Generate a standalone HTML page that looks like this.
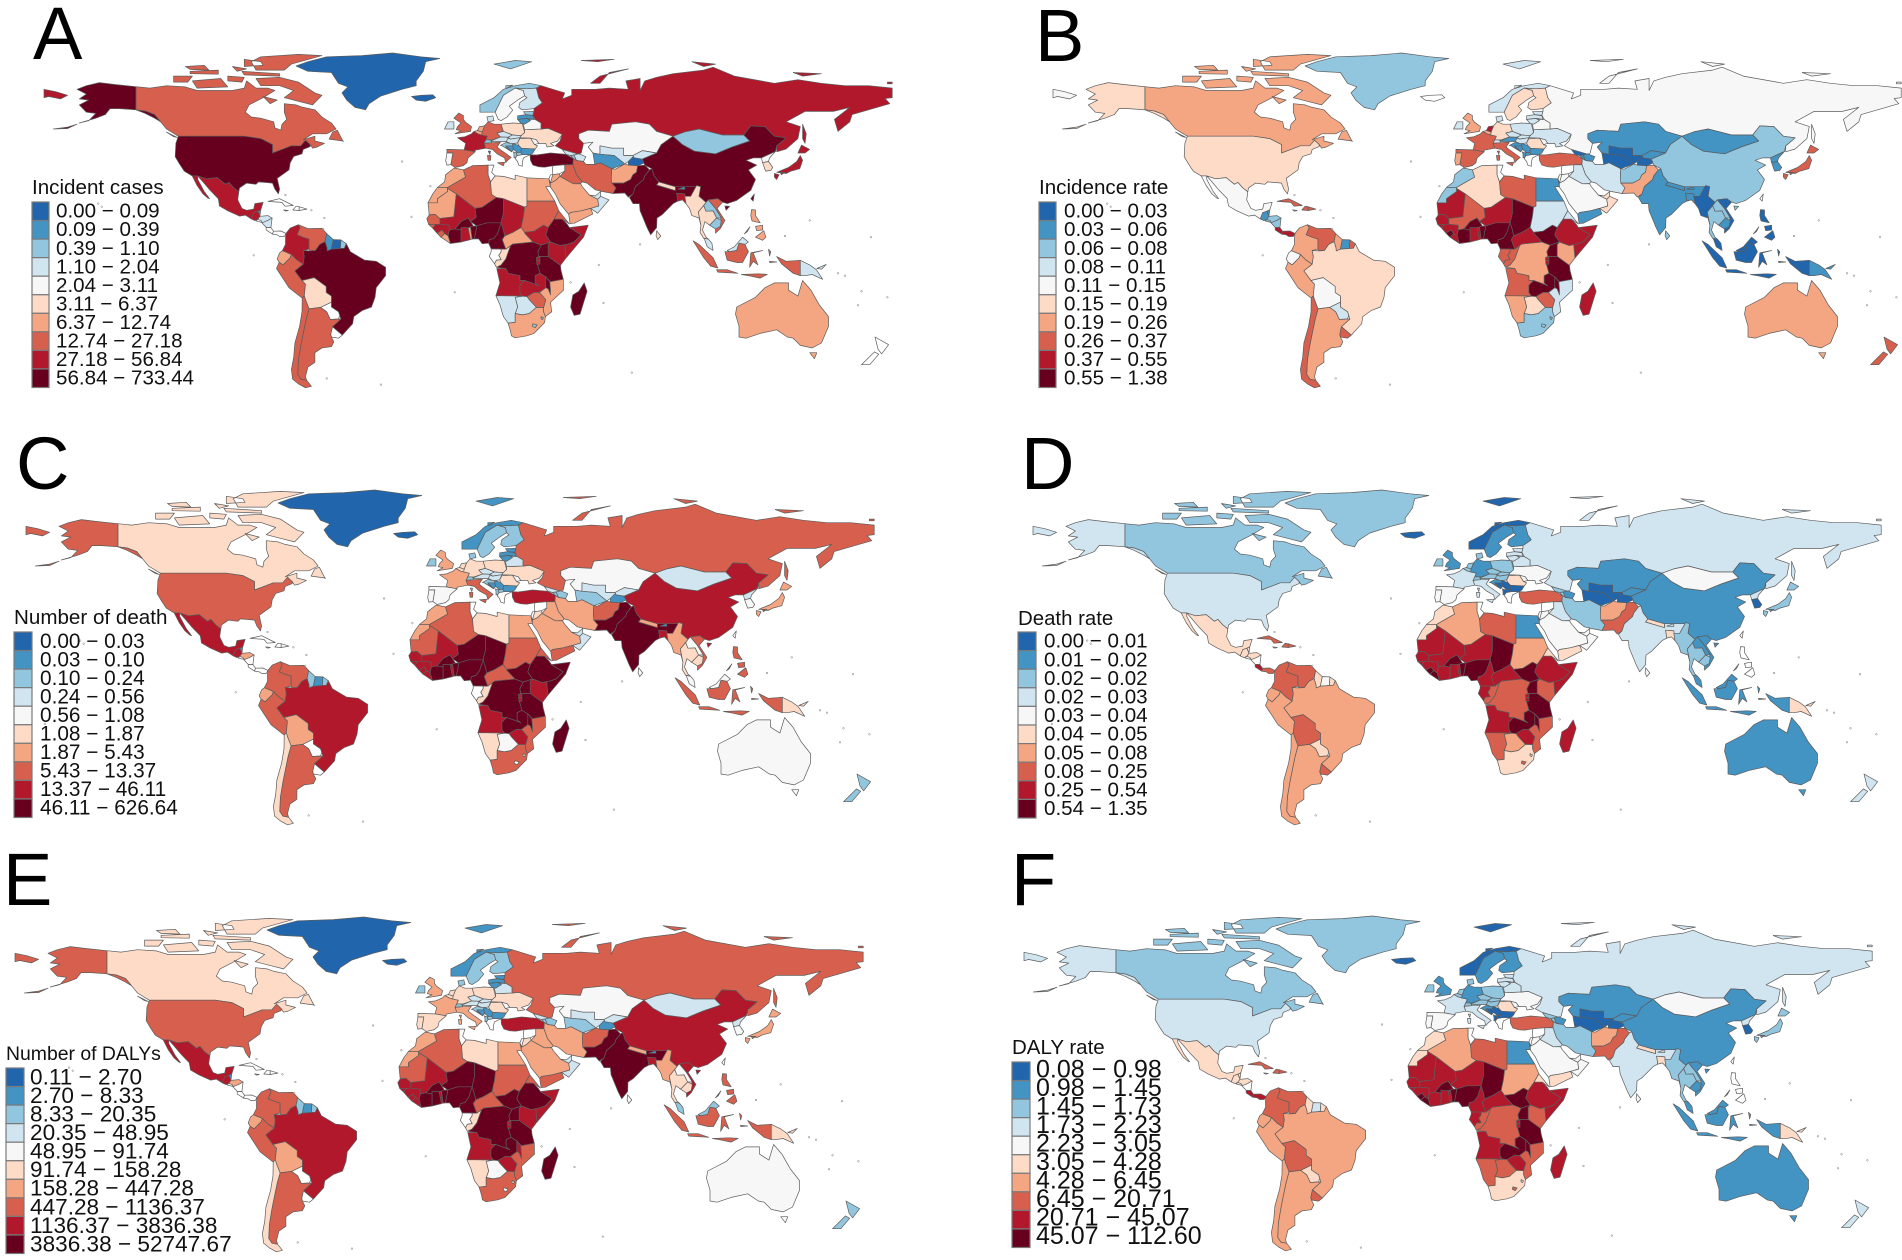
<!DOCTYPE html>
<html lang="en">
<head>
<meta charset="utf-8">
<title>Six-panel world choropleth maps</title>
<style>
html,body{margin:0;padding:0;background:#fff;}
#figure{display:block;width:1902px;height:1260px;font-family:"Liberation Sans",sans-serif;}
</style>
</head>
<body>
<svg id="figure" xmlns="http://www.w3.org/2000/svg" width="1902" height="1260" viewBox="0 0 1902 1260"></svg>
<script>
// ---------- chart data: one legend-class value per country (-1 = no data) ----------
const countries = [
"canada","usa","mexico","greenland","iceland","guatemala","belize","honduras","salvador","nicaragua","costarica","panama","cuba","haiti","dominican","jamaica",
"colombia","venezuela","guyana","suriname","frguiana","ecuador","peru","brazil","bolivia","paraguay","uruguay","argentina","chile",
"norway","sweden","finland","denmark","uk","ireland","france","spain","portugal","belgium","netherlands","germany","switzerland","austria","italy","poland","czechia","slovakia","hungary","croatia","bosnia","serbia","albania","macedonia","greece","bulgaria","romania","moldova","ukraine","belarus","lithuania","latvia","estonia","russia",
"turkey","georgia","armenia","azerbaijan","iran","iraq","syria","israel","jordan","saudi","yemen","oman","uae","kazakhstan","uzbekistan","turkmenistan","tajikistan","kyrgyzstan","afghanistan","pakistan",
"india","nepal","bhutan","bangladesh","srilanka","china","mongolia","japan","northkorea","southkorea","taiwan","myanmar","thailand","laos","vietnam","cambodia","malaysia","indonesia","philippines","png","australia","newzealand",
"morocco","wsahara","algeria","tunisia","libya","egypt","mauritania","mali","niger","chad","sudan","ssudan","eritrea","ethiopia","somalia","kenya","uganda","tanzania","rwanda","burundi","drc","congo","gabon","car","cameroon","nigeria","benin","togo","ghana","ivory","burkina","guinea","liberia","sierraleone","gbissau","senegal","angola","zambia","malawi","mozambique","zimbabwe","botswana","namibia","safrica","lesotho","swaziland","madagascar"
];
const incidentCases = [
7,9,8,0,0,8,1,3,-1,3,-1,-1,-1,-1,-1,-1,
8,7,1,0,2,6,7,9,5,-1,-1,7,7,
2,4,3,3,7,3,8,7,4,6,6,7,2,3,7,5,3,3,3,2,1,1,2,2,-1,1,5,4,5,4,1,1,2,8,
9,3,2,3,7,7,-1,4,6,6,6,3,3,4,3,1,0,3,6,9,
9,5,1,8,5,9,2,8,4,5,9,5,5,2,7,2,3,7,6,3,6,-1,
6,6,7,-1,5,6,6,8,9,8,7,8,7,9,8,8,9,9,8,8,9,5,-1,6,9,9,9,6,8,9,9,8,6,7,7,7,8,8,9,6,7,3,3,6,2,2,9
];
const incidenceRate = [
6,5,4,2,-1,1,1,2,2,2,8,8,7,7,7,-1,
6,7,6,1,7,4,6,5,4,3,7,6,7,
3,5,5,3,6,3,7,7,6,6,8,5,3,1,7,3,3,3,3,1,1,1,1,1,-1,1,5,4,3,4,3,3,3,4,
7,0,1,1,3,3,-1,4,4,4,1,5,5,1,0,0,0,1,2,6,
1,1,1,1,2,2,1,7,1,1,-1,0,2,2,0,1,0,0,0,1,6,7,
2,2,5,-1,7,1,8,7,8,9,3,9,3,8,8,6,9,9,8,8,6,7,7,8,9,9,9,8,8,9,9,8,8,9,8,8,7,9,9,3,7,5,6,2,2,2,8
];
const numberOfDeath = [
5,7,8,0,0,8,1,6,-1,-1,-1,-1,-1,-1,-1,-1,
7,7,2,1,2,6,7,8,6,-1,-1,7,5,
1,2,2,2,6,2,6,4,4,5,5,5,2,3,7,5,3,3,3,2,1,1,2,2,-1,1,5,4,5,3,1,1,1,7,
8,3,2,2,6,6,-1,4,5,6,7,3,3,4,3,2,1,3,7,9,
9,6,1,8,4,8,3,6,3,4,-1,6,5,4,7,5,4,7,7,5,4,2,
6,6,7,-1,5,6,7,8,9,9,7,9,7,9,9,8,9,9,8,8,9,5,-1,7,9,9,9,8,9,9,9,8,8,8,8,8,8,9,9,7,8,4,5,7,-1,-1,9
];
const deathRate = [
2,3,5,2,0,5,5,5,-1,-1,8,7,7,7,7,-1,
7,7,5,4,5,6,6,6,7,5,7,6,6,
0,1,1,2,1,2,3,4,4,2,2,1,2,2,3,2,2,2,2,1,0,0,0,0,-1,0,5,4,4,3,3,3,3,3,
7,2,2,1,2,3,-1,4,4,4,5,4,4,1,0,0,0,1,6,7,
3,5,3,5,4,1,4,2,3,0,-1,2,2,1,1,2,1,1,-1,5,1,3,
5,5,6,-1,7,1,8,8,8,9,6,9,5,8,8,7,9,9,8,8,7,7,8,8,8,9,9,8,8,8,9,8,9,9,8,8,8,9,9,7,8,6,7,5,7,5,8
];
const numberOfDalys = [
5,7,8,0,0,8,1,6,-1,-1,-1,-1,-1,-1,-1,-1,
7,7,2,1,2,6,7,8,6,-1,-1,7,5,
1,2,2,2,6,2,6,5,5,5,5,5,2,3,6,5,3,3,3,2,1,1,2,2,-1,1,5,4,5,3,1,1,1,7,
8,3,2,2,6,6,-1,4,5,6,7,3,3,4,3,2,1,3,7,9,
9,6,1,8,4,8,3,6,3,4,-1,6,5,4,8,5,2,7,7,5,4,2,
6,6,7,-1,5,6,7,8,9,9,7,9,7,9,8,8,9,9,8,8,9,5,-1,7,9,9,9,8,9,9,9,8,8,8,8,8,8,9,8,7,8,4,5,7,-1,-1,9
];
const dalyRate = [
2,3,5,2,0,5,5,5,5,-1,8,8,7,7,7,-1,
7,7,5,3,5,6,6,6,7,5,7,6,6,
0,1,1,2,1,2,3,4,4,2,2,1,2,2,3,2,2,2,2,1,0,0,0,0,-1,0,5,4,4,3,3,3,3,3,
7,2,2,1,2,3,-1,4,4,4,5,4,4,1,0,0,0,1,6,7,
3,5,3,5,4,1,4,2,3,0,-1,2,2,2,1,1,1,1,-1,5,1,3,
5,5,6,-1,7,1,8,8,8,9,6,9,5,8,8,7,9,9,8,8,7,7,8,8,8,9,9,8,8,8,9,8,9,9,8,8,8,9,9,7,8,7,7,5,7,5,8
];
// legend tick labels
const incidentLabels = ["0.00 − 0.09","0.09 − 0.39","0.39 − 1.10","1.10 − 2.04","2.04 − 3.11","3.11 − 6.37","6.37 − 12.74","12.74 − 27.18","27.18 − 56.84","56.84 − 733.44"];
const incidenceLabels = ["0.00 − 0.03","0.03 − 0.06","0.06 − 0.08","0.08 − 0.11","0.11 − 0.15","0.15 − 0.19","0.19 − 0.26","0.26 − 0.37","0.37 − 0.55","0.55 − 1.38"];
const deathLabels = ["0.00 − 0.03","0.03 − 0.10","0.10 − 0.24","0.24 − 0.56","0.56 − 1.08","1.08 − 1.87","1.87 − 5.43","5.43 − 13.37","13.37 − 46.11","46.11 − 626.64"];
const deathRateLabels = ["0.00 − 0.01","0.01 − 0.02","0.02 − 0.02","0.02 − 0.03","0.03 − 0.04","0.04 − 0.05","0.05 − 0.08","0.08 − 0.25","0.25 − 0.54","0.54 − 1.35"];
const dalyLabels = ["0.11 − 2.70","2.70 − 8.33","8.33 − 20.35","20.35 − 48.95","48.95 − 91.74","91.74 − 158.28","158.28 − 447.28","447.28 − 1136.37","1136.37 − 3836.38","3836.38 − 52747.67"];
const dalyRateLabels = ["0.08 − 0.98","0.98 − 1.45","1.45 − 1.73","1.73 − 2.23","2.23 − 3.05","3.05 − 4.28","4.28 − 6.45","6.45 − 20.71","20.71 − 45.07","45.07 − 112.60"];
const classColors = ["#2166ac","#4393c3","#92c5de","#d1e5f0","#f7f7f7","#fddbc7","#f4a582","#d6604d","#b2182b","#67001f"];

// ---------- geography: lon/lat outlines ----------
const shapes = {
canada:[[[-141,69.6],[-135,69],[-128,70],[-120,69.5],[-115,68],[-108,68],[-100,68],[-95,69],[-94,72],[-90,69],[-85,69],[-82,68],[-87,65],[-93,62],[-94.5,59],[-92,57],[-88,56.5],[-82.5,55],[-82,52.5],[-79.5,51.5],[-79,54],[-77,56],[-78,59],[-78,62.5],[-73,62],[-70,61],[-65,60],[-62,57],[-58,54.5],[-56,52],[-60,50],[-66,50],[-70,47.5],[-65,49],[-65,47],[-61,46],[-64,44.5],[-66,44],[-67,45.5],[-69,47.3],[-71,45],[-75,45],[-79,43.5],[-83,42],[-83,45.5],[-88,48],[-95,49],[-123,49],[-128,52],[-130.5,55],[-133,58],[-137,59.5],[-141,60]],
[[-80,73.5],[-72,71.5],[-65,67],[-62,66],[-66,62],[-72,63.5],[-78,65],[-74,68],[-80,70],[-88,70],[-90,73]],[[-117,72],[-105,73],[-102,69.5],[-115,69]],[[-125,74],[-117,74],[-119,71.5],[-125,71.5]],[[-90,76.5],[-78,76.5],[-75,79],[-62,82.5],[-72,83],[-88,82],[-92,80]],[[-96,76],[-80,75],[-80,74],[-95,74.5]],[[-118,76],[-106,76.5],[-106,74.8],[-118,75]],[[-95,81],[-88,80],[-87,78.5],[-95,78]],[[-59,47.8],[-53,47],[-53,46.7],[-55.5,51.5],[-57.5,50.7]],[[-87,65.5],[-81,64],[-84,62.5]],[[-102,74],[-95,73.5],[-96,71.5],[-102,72]],[[-128,50.7],[-123.5,48.5],[-125,48.8]],[[-120,78],[-112,78.5],[-110,76.5],[-118,76.8]],[[-100,78],[-94,77],[-98,76]]],
usa:[[[-123,49],[-95,49],[-88,48],[-83,45.5],[-83,42],[-79,43.5],[-75,45],[-71,45],[-69,47.3],[-67,45.5],[-67,44.7],[-70,43.5],[-70.5,41.7],[-74,40.6],[-75.5,38],[-76,35],[-81,31.5],[-80,27],[-80.5,25],[-82,27],[-83,29.5],[-85,29.7],[-89,30],[-90,29],[-94,29.5],[-97,27.5],[-97.3,25.9],[-99.5,27.5],[-101.5,29.8],[-103,29],[-106.5,31.8],[-111,31.3],[-114.8,32.5],[-117.1,32.5],[-120.5,34.5],[-122.5,37.5],[-124.3,40.5],[-124,46]],
[[-141,69.6],[-150,70.5],[-156.5,71.3],[-162,70],[-166,68.5],[-162,66.5],[-165,64.5],[-161,64],[-165,62],[-162,59],[-158,58.5],[-161,55.5],[-165,54.5],[-158,56.5],[-154,58],[-152,60.5],[-148,60.5],[-141,60],[-137,58.5],[-133,56.5],[-130.5,55],[-133,58],[-137,59.5],[-141,60]],[[-176,52],[-170,52.8],[-166,54],[-170,52.2]]],
mexico:[[[-114.8,32.5],[-111,31.3],[-106.5,31.8],[-103,29],[-101.5,29.8],[-99.5,27.5],[-97.3,25.9],[-97.8,22.5],[-96,19],[-94,18.2],[-91,18.7],[-90.5,21],[-87,21.5],[-88,18.4],[-89.2,17.8],[-91,17.2],[-92,14.6],[-94.5,16.2],[-97,15.8],[-102,18],[-105.5,20],[-106,23],[-109.5,26.5],[-112.5,30]],[[-117.1,32.5],[-114.8,32.5],[-114.7,31],[-112,26],[-109.7,23],[-110.5,23.3],[-112.5,25],[-115,28.5]]],
greenland:[[[-73,78.2],[-68,80],[-60,82],[-45,82.5],[-32,83.6],[-20,82],[-12,81.3],[-18,80],[-19,76],[-22,72],[-22,70],[-28,68.5],[-37,65.7],[-42,62.5],[-43.5,60],[-48,61],[-51.5,64],[-53.5,67],[-51,69.5],[-55,71],[-58,75.5],[-68,76]]],
iceland:[[[-24,65.5],[-20,66],[-15,66.2],[-13.7,65],[-18,63.5],[-22,64]]],
guatemala:[[[-92,14.6],[-91,17.2],[-89.2,17.8],[-88.3,15.7],[-89.3,14.4],[-90.5,13.9]]],
belize:[[[-89.2,17.8],[-88,18.4],[-88.3,16]]],
honduras:[[[-89.3,14.4],[-88.3,15.7],[-85,16],[-83.2,15],[-85,14],[-87,13]]],
salvador:[[[-90,13.8],[-89.3,14.4],[-87.8,13.9],[-87.8,13.2]]],
nicaragua:[[[-87.5,13],[-85,14],[-83.2,15],[-83.7,11],[-85.7,11.1]]],
costarica:[[[-85.7,11.1],[-83.7,11],[-82.6,9.5],[-83,8.3],[-85.7,10]]],
panama:[[[-83,8.3],[-82.6,9.5],[-79.5,9.6],[-77.3,8.6],[-78,7.3],[-80,7.3],[-81,8]]],
cuba:[[[-84.9,21.9],[-80,23],[-74.2,20.2],[-77.7,19.9],[-79,21.5]]],
haiti:[[[-74.4,18.3],[-73,19.9],[-71.7,19.7],[-71.7,18.1]]],
dominican:[[[-71.7,19.7],[-68.4,18.7],[-71.7,18.1]]],
jamaica:[[[-78.3,18.4],[-76.3,18.1],[-77.5,17.8]]],
colombia:[[[-77.3,8.6],[-75.5,10.8],[-72,12.2],[-71.3,11],[-72.5,8],[-70,7],[-67.5,6.2],[-67.5,2],[-70,1.5],[-69.5,-1],[-70,-4.2],[-72.8,-2.4],[-75,-0.2],[-78.8,1.4],[-77.5,4],[-77.5,7]]],
venezuela:[[[-72,12.2],[-68,10.6],[-62,10.7],[-60,8.5],[-60.7,5.2],[-63,4],[-64.8,1.5],[-67,1.3],[-67.5,2],[-67.5,6.2],[-70,7],[-72.5,8],[-71.3,11]]],
guyana:[[[-60,8.5],[-57.2,6],[-58,2],[-59.8,1.3],[-59.9,2.5],[-60.7,5.2]]],
suriname:[[[-57.2,6],[-54,5.9],[-54.2,2.3],[-58,2]]],
frguiana:[[[-54,5.9],[-51.7,4.3],[-52.5,2.4],[-54.2,2.3]]],
ecuador:[[[-78.8,1.4],[-75,-0.2],[-75.5,-1.5],[-78.5,-4.5],[-80.2,-3.4],[-81,-2],[-80,0.5]]],
peru:[[[-80.2,-3.4],[-78.5,-4.5],[-75.5,-1.5],[-75,-0.2],[-72.8,-2.4],[-70,-4.2],[-73.5,-7],[-70.5,-11],[-69,-12.5],[-69.5,-17.3],[-70.4,-18.3],[-76,-14],[-81.3,-6]]],
brazil:[[[-51.7,4.3],[-50,1],[-44,-2.5],[-39,-3],[-35,-5.5],[-35,-9],[-39,-14],[-39.5,-18],[-41,-22],[-45,-23.5],[-48.5,-26],[-49,-29],[-53.4,-33.7],[-57.6,-30.2],[-54,-27],[-54.5,-25.5],[-55,-24],[-58,-22],[-58,-17.5],[-60.2,-16],[-60.2,-13.5],[-65.3,-9.8],[-70.5,-11],[-73.5,-7],[-70,-4.2],[-69.5,-1],[-70,1.5],[-67,1.3],[-64.8,1.5],[-63,4],[-60.7,5.2],[-59.9,2.5],[-59.8,1.3],[-58,2],[-54.2,2.3],[-52.5,2.4]]],
bolivia:[[[-69,-12.5],[-70.5,-11],[-65.3,-9.8],[-60.2,-13.5],[-60.2,-16],[-58,-17.5],[-58,-20],[-62.6,-22.2],[-67.5,-22.8],[-69,-19],[-69.5,-17.3]]],
paraguay:[[[-58,-20],[-58,-22],[-55,-24],[-54.5,-25.5],[-55,-27],[-58.5,-27.2],[-60,-24],[-62.6,-22.2]]],
uruguay:[[[-58.3,-33.5],[-57.6,-30.2],[-53.4,-33.7],[-55,-35],[-58,-34.5]]],
argentina:[[[-67.5,-22.8],[-62.6,-22.2],[-60,-24],[-58.5,-27.2],[-55,-27],[-54,-27],[-57.6,-30.2],[-58.3,-33.5],[-58,-34.5],[-57,-36.5],[-58,-38.5],[-62,-39],[-65,-41],[-65,-45],[-68,-47],[-69,-51],[-68.5,-52.5],[-71,-52],[-72.3,-50],[-72,-44],[-71,-38],[-70,-33],[-68.7,-27]]],
chile:[[[-70.4,-18.3],[-69.5,-17.3],[-69,-19],[-67.5,-22.8],[-68.7,-27],[-70,-33],[-71,-38],[-72,-44],[-72.3,-50],[-71,-52],[-68.5,-52.5],[-66.5,-55],[-69,-55.6],[-72,-54],[-74.5,-52],[-75,-48],[-74,-43],[-73.5,-37],[-71.5,-30],[-70.5,-24]]],
norway:[[[5,59],[5,62],[11,65],[15,68.5],[20,70],[26,71],[31,70],[29,69],[25,68.7],[20,69],[15,66],[12.5,61],[11.5,59]],[[11,79],[20,80.5],[27,80],[18,77]],[[16,70],[19,70.2],[16,68.8]]],
sweden:[[[11.5,59],[12.5,61],[15,66],[20,69],[23.5,68],[24,65.8],[21,64],[17.5,61.5],[19,59.8],[16.5,57],[14,55.5],[12.8,56]]],
finland:[[[20,69],[25,68.7],[29,69],[30,65],[31.5,62.9],[28,60.5],[23,60],[21.5,61],[22,63],[25,65],[24,65.8],[23.5,68]]],
denmark:[[[8,57],[10.5,57.5],[11,55.5],[8.5,55]]],
uk:[[[-5.5,50],[1,51],[1.5,53],[-1,54.8],[-2,56],[-2,57.6],[-4,58.6],[-6,56.5],[-3,54.5],[-4.5,53],[-5,51.7],[-3,51.3]]],
ireland:[[[-10,52],[-6,52],[-6,55],[-8.5,55]]],
france:[[[-4.5,48.4],[-1.5,48.7],[1.5,50],[2.5,51],[4.2,50],[8.2,49],[7.5,47.5],[6.8,46],[7.5,44],[3,43.2],[3,42.5],[-1.7,43.3],[-1,46]],[[8.6,42.8],[9.5,42.8],[9.2,41.4]]],
spain:[[[-9,43.5],[-1.7,43.3],[3,42.5],[0,40],[-0.5,38],[-2,36.8],[-5.5,36],[-7.3,37.2],[-7,39],[-6.5,42],[-9,42]]],
portugal:[[[-9,42],[-6.5,42],[-7,39],[-7.3,37.2],[-9,37],[-9.5,38.8]]],
belgium:[[[2.5,51],[4,51.4],[6,50.7],[5.8,49.5],[4.2,50]]],
netherlands:[[[4,51.4],[4.8,53],[7,53.3],[6,50.7]]],
germany:[[[6,50.7],[7,53.3],[8.5,55],[11,54],[14,54],[15,51],[12.2,50.3],[13.8,48.7],[10,47.4],[7.5,47.5],[8.2,49],[5.8,49.5]]],
switzerland:[[[6.8,46],[7.5,47.5],[10,47.4],[10,46.3]]],
austria:[[[9.6,47],[13.8,48.7],[17,48.5],[16.5,46.8],[10.5,46.8]]],
italy:[[[6.8,46],[10,46.3],[13.7,46.5],[12.3,44.5],[13.5,43.5],[18.3,40.2],[16.8,39],[16,38],[15.5,40],[12.3,41.7],[10.3,43.5],[7.5,44]],[[12.5,38],[15.5,38.2],[15,36.7]],[[8.2,41],[9.7,41],[9.5,39],[8.5,39]]],
poland:[[[14,54],[19,54.5],[23,54.3],[24,50.5],[22.5,49.2],[19,49.5],[15,51]]],
czechia:[[[12.2,50.3],[15,51],[18.8,49.5],[17,48.6],[13.8,48.7]]],
slovakia:[[[17,48.6],[18.8,49.5],[22.5,49.2],[22,48.4],[18,47.8]]],
hungary:[[[16.2,46.8],[17,48.2],[18,47.8],[22,48.4],[21,46.2],[18.5,45.8]]],
croatia:[[[13.7,45.2],[16,46.4],[18.8,45.9],[19,45],[16,44.5],[18.5,42.5],[14.5,45]]],
bosnia:[[[16,45],[19,45],[19.3,43.5],[18.5,42.5]]],
serbia:[[[19,46],[21.5,45.2],[22.7,44],[22.4,42.3],[20.8,42.3],[19.3,43.5],[19,45]]],
albania:[[[19.2,42.5],[20.5,42],[20.8,40.5],[19.5,40],[19.5,41.5]]],
macedonia:[[[20.5,42.2],[22.4,42.3],[23,41.3],[20.8,40.9]]],
greece:[[[20,39.7],[20.8,40.9],[23,41.3],[26.3,41.3],[23.5,40],[23,38],[23,36.5],[21.5,37],[21,38.5]]],
bulgaria:[[[22.7,44],[28.5,43.7],[27.5,42],[26.3,41.3],[23,41.3],[22.4,42.3]]],
romania:[[[21,46.2],[22,48],[26.5,48.2],[28.2,45.5],[29.5,45],[28.5,43.7],[22.7,44],[21.5,45.2]]],
moldova:[[[26.5,48.2],[29,47.5],[30,46],[28.2,45.5]]],
ukraine:[[[24,50.5],[24,51.7],[31,52],[34,52.3],[40,49.8],[38,47],[35,46],[36.5,45],[33.5,44.5],[33,46],[30,46],[29,47.5],[26.5,48.2],[22,48.4],[22.5,49.2]]],
belarus:[[[23.5,53.8],[25,56],[28.5,56],[31,54.5],[31,52],[24,51.7]]],
lithuania:[[[21,56],[25,56.4],[26.5,55.5],[24,54],[22.5,54.3]]],
latvia:[[[21,57.5],[24.5,58],[27.5,57.5],[28,56],[25,56.4],[21,56]]],
estonia:[[[23.5,59.2],[28,59.4],[27.5,57.7],[24.5,58]]],
russia:[[[28,59.4],[28,60.5],[31.5,62.9],[30,65],[29,69],[31,70],[41,67],[40,64.5],[44,66],[44,68.5],[54,68.5],[60,69],[68,68.5],[67,72],[73,73],[73,68],[75,72],[80,73.5],[87,75],[100,76.5],[104,77.7],[113,74],[130,71],[140,72.5],[150,71],[160,70],[170,70],[180,69],[180,65],[177,64.7],[179,62.5],[170,60],[163,58],[162,55],[157,51],[155.5,56],[162,61],[155,59.3],[143,59.3],[135,55],[141,53],[140,48],[135,43.7],[131,42.5],[131,45],[135,48.3],[130,49],[126,53],[120,53.3],[117,49.5],[108,49.5],[98,52],[92,50.8],[87,49],[80,51],[77,54],[71,55],[61,54],[60,51],[51,51.5],[47,50],[47,48],[49,46],[48,42],[47,41.5],[40,43.5],[37,45],[39,47],[40,49.8],[34,52.3],[31,52],[31,54.5],[28.5,56],[27.5,57.7]],
[[-180,68.5],[-175,67.5],[-170,66],[-173,64.5],[-178,65.5],[-180,65]],[[52,71],[56,74],[68,77],[60,75.5],[56,71]],[[142,54],[143.5,50],[143,46],[142,48]],[[95,80],[105,79],[100,78]],[[138,75.5],[150,75],[142,74]],[[48,80.5],[62,81],[55,80]],[[178,71.5],[180,71.5],[180,70.8],[178,70.8]]],
turkey:[[[26.3,41.3],[29,41.2],[35,42],[41.5,41.5],[44.7,39.7],[44.5,37.2],[41,37.1],[36,36.7],[32.5,36.1],[30,36.3],[27.5,37],[26.5,39]]],
georgia:[[[40,43.5],[47,41.5],[43.5,41],[41.5,41.5]]],
armenia:[[[43.5,41],[45,41.2],[46,38.9],[44.7,39.7]]],
azerbaijan:[[[45,41.2],[47,41.7],[50,40.5],[49,38.5],[46,38.9]]],
iran:[[[44.7,39.7],[46,38.9],[49,38.5],[50,37.3],[53.8,37.3],[56,38],[61,35.5],[60.8,31.5],[62.8,27.5],[61.5,25.2],[57,26],[54,26.7],[50.5,29.5],[48.5,30],[46,33],[44.5,37.2]]],
iraq:[[[44.5,37.2],[46,33],[48.5,30],[47.7,29.3],[44.7,29.2],[39,32.3],[41,34.5],[41,37.1]]],
syria:[[[36,36.7],[41,37.1],[41,34.5],[38.8,33.4],[36,33],[35.8,35]]],
israel:[[[34.3,31.3],[35,33],[36,33],[35.5,31],[35,29.5]]],
jordan:[[[35.5,31.5],[36,33],[38.8,33.4],[39,32.3],[37,30.5],[35,29.5]]],
saudi:[[[35,29.5],[37,30.5],[39,32.3],[44.7,29.2],[47.7,29.3],[48.5,28],[50.2,26],[51.5,24.5],[55,22.8],[55.5,20],[52,19],[48,18],[43.5,17.3],[42.7,16.5],[39,21],[37,25],[34.8,28]]],
yemen:[[[42.7,16.5],[43.5,17.3],[48,18],[52,19],[53,16.7],[45,12.8],[43.3,12.7]]],
oman:[[[56.3,24],[59.8,22.5],[55,17],[52,19],[55.5,20],[55,22.8]]],
uae:[[[51.5,24.5],[54,24.2],[56.3,26],[56.3,24],[55,22.8]]],
kazakhstan:[[[47,50],[51,51.5],[60,51],[61,54],[71,55],[77,54],[80,51],[87,49],[82,45.5],[80,42],[74,43],[70,41],[66,41],[66,44],[61,44],[56,45],[56,41.5],[53,42],[51,44.5],[53,46.5],[49,46],[47,48]]],
uzbekistan:[[[56,45],[61,44],[66,44],[66,41],[70,41],[73,40.5],[68,38.5],[66.5,37.5],[62,41],[56,41.5]]],
turkmenistan:[[[53,42],[56,41.5],[62,41],[66.5,37.5],[61,35.5],[56,38],[53.8,37.3]]],
tajikistan:[[[68,38.5],[70,40.5],[73.5,39.5],[75,38],[72,36.7],[68,37]]],
kyrgyzstan:[[[70,41],[74,43],[80,42],[74,39.5],[70.5,40]]],
afghanistan:[[[61,35.5],[62.5,35.3],[66.5,37.5],[68,37],[72,36.7],[71.5,34],[70,33],[69,31],[66,29.5],[61,29.5],[60.8,31.5]]],
pakistan:[[[61,29.5],[66,29.5],[69,31],[70,33],[71.5,34],[72,36.7],[75,37],[77,35],[75,32.5],[74.5,31],[71,28],[70,25],[68,23.7],[66.5,25.4],[61.5,25.2],[62.8,27.5]]],
india:[[[77,35],[78,35.5],[79,32.5],[81,30],[80,28.7],[88,26.4],[88,28],[92,28],[97,28.5],[94.5,24],[93,22],[92,24],[92,25],[88.5,25.3],[89,22],[87,21],[82.5,16.5],[80.2,15],[80,11],[77.5,8],[76,11],[73,18],[72.7,21],[70,21],[68.5,23.5],[70,25],[71,28],[74.5,31],[75,32.5]]],
nepal:[[[80,28.7],[81,30],[88,28],[88,26.4]]],
bhutan:[[[89,27],[92,28],[92,26.9]]],
bangladesh:[[[88.5,25.3],[92,25],[92.5,21],[91,22.5],[89,22]]],
srilanka:[[[80,9.7],[81.8,7.5],[80.5,6],[79.8,7.5]]],
china:[[[74,39.5],[80,42],[82,45.5],[87,49],[91,45.5],[96,42.8],[105,41.7],[112,44.5],[119.5,47],[117,49.5],[120,53.3],[126,53],[130,49],[135,48.3],[131,45],[130.5,42.7],[124.5,40],[121,40],[118,39],[122.5,37],[119,35],[122,31],[120,26.5],[114,22.3],[110,21],[108,21.6],[106,23],[102,22.5],[101,21.5],[98,24],[98.7,28],[92,28],[88,28],[81,30],[79,32.5],[78,35.5],[75,37]],[[109,20],[111,19.8],[109.5,18.2]]],
mongolia:[[[87,49],[92,50.8],[98,52],[108,49.5],[117,49.5],[119.5,47],[112,44.5],[105,41.7],[96,42.8],[91,45.5]]],
japan:[[[131,34],[136,36],[139.5,38.5],[141,41],[142,39],[140.8,35.5],[137,34.5],[135,33.5]],[[140,42],[141.5,45.3],[145,43.5],[143,42]],[[130,33.5],[132,33],[131,31],[130,32]],[[132.5,34],[134.5,34],[133,33]]],
northkorea:[[[124.5,40],[130.5,42.7],[128,40],[127.5,38.5],[125,38]]],
southkorea:[[[125,38],[127.5,38.5],[129.3,36],[128.5,34.8],[126.3,34.5]]],
taiwan:[[[120,23],[121.5,25],[121,22]]],
myanmar:[[[92,24],[94.5,24],[97,28.5],[98.7,28],[98,24],[101,21.5],[100,20.2],[97.7,17.5],[98.8,12],[98,15],[95,16],[94,19],[92.5,21]]],
thailand:[[[100,20.2],[101,17.8],[104,18],[105.5,15],[102.5,12],[100.5,13.5],[99.5,10],[101,7],[102,6.2],[100,6.5],[98.5,9],[98.8,12],[97.7,17.5]]],
laos:[[[101,21.5],[102,22.5],[105,19],[107.5,15],[105.5,15],[104,18],[101,17.8],[100,20.2]]],
vietnam:[[[102,22.5],[106,23],[108,21.6],[105.7,19],[109,14],[107,10.5],[105,8.7],[105,10.5],[107.5,15],[105,19]]],
cambodia:[[[102.5,12],[105.5,15],[107.5,14],[107,11.5],[105,10.4]]],
malaysia:[[[100.2,6.5],[102,6.2],[103.5,4.5],[104,1.5],[101.5,3]],[[110,1.5],[113,3],[116.5,7],[119,5],[117.5,4],[115,4.5],[114,1.5],[111,1]]],
indonesia:[[[95.5,5.5],[98,4],[104,-1.5],[106,-5.8],[103,-5],[100,-1.5]],[[105.5,-6.5],[110,-6.5],[114.5,-8],[106,-7.5]],[[109,1],[111,1],[114,1.5],[115,4.5],[117.5,4],[119,1],[116.5,-3.5],[114,-3.5],[110,-2.5]],[[119.5,-5.5],[120,0.5],[125,1.5],[121,0.5],[123,-4.5],[121,-3]],[[131,-1],[135,-3],[141,-2.6],[141,-9],[138,-8],[133,-4]],[[116,-8.5],[123,-8.2],[127,-8.4],[124,-10],[119,-9]],[[128,-3],[131,-3.3],[128,-3.5]],[[127.5,2],[128.5,1],[128,-0.8]]],
philippines:[[[120.3,18.5],[122,18.3],[122,16],[124,13],[120.5,13.8],[120,16]],[[122,7],[125.5,9.7],[126.4,7],[125,5.7]],[[122,11.5],[125,12],[125,10],[122.5,9.7]],[[117.3,8.4],[119.6,11.3],[118.5,9.3]]],
png:[[[141,-2.6],[145,-4.5],[147.8,-6.5],[150.5,-10.5],[146,-8.5],[143,-9],[141,-9]],[[148,-6],[152,-4.3],[150,-6.3]]],
australia:[[[114,-22],[122,-18],[126,-14],[130,-12],[136,-12],[136,-15],[140,-17.5],[142,-11],[145.5,-15],[149,-21],[153,-26],[153,-30],[150,-37],[146,-39],[141,-38],[138,-35],[135.5,-34.5],[131,-31.5],[124,-33],[118,-35],[115,-34.5],[115,-30],[113.5,-25]],[[145,-41],[148,-41],[147,-43.5]]],
newzealand:[[[172.7,-34.5],[178.5,-37.7],[175.5,-41.5],[174,-39.5]],[[172.5,-40.7],[174.3,-41.7],[170.5,-46],[167,-46]]],
morocco:[[[-5.9,35.8],[-2,35],[-1,32],[-8.7,27.7],[-13,27.7],[-10,30],[-9.5,33]]],
wsahara:[[[-13,27.7],[-8.7,27.7],[-8.7,26],[-13,23],[-13,21.3],[-17,21.3],[-15,25]]],
algeria:[[[-2,35],[2,36.8],[8.5,37],[8.5,33],[9.5,30],[10,24.8],[12,23.5],[6,19.5],[3,19],[-5,25],[-8.7,27.3],[-8.7,27.7],[-1,32]]],
tunisia:[[[8.5,37],[11,37],[10,34],[11.5,32.5],[9.5,30],[8.5,33]]],
libya:[[[9.5,30],[11.5,32.5],[15,32.3],[20,31],[20,32.8],[25,31.7],[25,20],[24,19.5],[15,23],[12,23.5],[10,24.8]]],
egypt:[[[25,31.7],[34.3,31.3],[35,28],[33,28],[36.8,22],[25,22]]],
mauritania:[[[-17,21.3],[-13,21.3],[-13,23],[-8.7,26],[-8.7,27.3],[-5,25],[-6,15.5],[-12,14.8],[-14,16.5],[-16.5,16.3]]],
mali:[[[-12,14.8],[-6,15.5],[-5,25],[3,19],[3.5,15.3],[1,13.5],[0,15],[-3,13.5],[-5.5,10.5],[-8,10],[-8,12],[-12,12.4]]],
niger:[[[12,23.5],[15,23],[15,17],[14,13],[8,13],[3.7,11.7],[1,13.5],[3.5,15.3],[3,19],[6,19.5]]],
chad:[[[15,23],[24,19.5],[23.5,15.5],[22.5,11],[19,9],[15.5,7.5],[15,10],[14,13],[15,17]]],
sudan:[[[24,19.5],[25,20],[25,22],[36.8,22],[38.5,18],[36.5,14.5],[34,11],[32,12],[28,9.5],[24,9],[22.5,11],[23.5,15.5]]],
ssudan:[[[24,9],[28,9.5],[32,12],[34,11],[33,8],[35,5],[31,3.7],[27.5,5],[24,8.7]]],
eritrea:[[[36.5,14.5],[38.5,18],[43,12.5],[40,14.5]]],
ethiopia:[[[34,11],[36.5,14.5],[40,14.5],[42,12.5],[43,11],[48,8],[45,5],[42,4],[39,3.5],[35,5],[33,8]]],
somalia:[[[43,11],[51,12],[49,7],[41.5,-1.7],[41,3.9],[42,4],[45,5],[48,8]]],
kenya:[[[35,5],[39,3.5],[41,3.9],[41.5,-1.7],[39.2,-4.7],[34,-1],[34,4]]],
uganda:[[[31,3.7],[35,5],[34,4],[34,-1],[30,-1],[29.6,1]]],
tanzania:[[[30,-1],[34,-1],[39.2,-4.7],[39.5,-7],[40.4,-10.5],[35,-11.5],[33,-9.5],[30.5,-8],[29.5,-4.5]]],
rwanda:[[[29,-1.5],[30.5,-1.2],[30.5,-2.7],[29,-2.7]]],
burundi:[[[29,-2.7],[30.5,-2.7],[30.5,-4.2],[29.2,-4.3]]],
drc:[[[12,-5.5],[14,-4.5],[16,-2],[18,3.5],[19,4.2],[24,4.7],[27.5,5],[31,3.7],[29.6,1],[30,-1],[29,-1.5],[29.2,-4.3],[29.5,-4.5],[30.5,-8],[28.5,-9],[28.5,-12],[30,-13.2],[27,-12],[24,-11],[22,-11],[22,-9],[17,-8],[16,-6]]],
congo:[[[11.2,-4],[12,-5.5],[14,-4.5],[16,-2],[18,3.5],[16,2],[14,2.1],[14,1],[13,-0.5],[14,-2.3],[12,-2.5]]],
gabon:[[[9,-1],[11.2,-4],[12,-2.5],[14,-2.3],[13,-0.5],[14,1],[14,2.1],[9.8,2.2],[9.8,1.1]]],
car:[[[14.5,6],[16,2],[18,3.5],[19,4.2],[24,4.7],[27.5,5],[24,8.7],[24,9],[22.5,11],[19,9],[15.5,7.5]]],
cameroon:[[[8.7,4.5],[9.8,2.2],[14,2.1],[16,2],[14.5,6],[15.5,7.5],[15,10],[14,13],[12.5,8.5],[11,6.5],[9,6]]],
nigeria:[[[2.7,6.3],[3.7,11.7],[8,13],[14,13],[12.5,8.5],[11,6.5],[9,6],[8.7,4.5],[6,4.3],[4.5,6.3]]],
benin:[[[1.7,6.2],[2.7,6.3],[3.7,11.7],[1,11.5]]],
togo:[[[1,6],[1.7,6.2],[1,11.2],[0,11]]],
ghana:[[[-3,5],[1,6],[0,11],[-3,11]]],
ivory:[[[-7.5,4.4],[-3,5],[-3,10],[-5.5,10.5],[-8,10],[-8.5,7.6]]],
burkina:[[[-5.5,10.5],[-3,10],[-3,11],[0,11],[1,11.2],[2.2,11.7],[1,13.5],[0,15],[-3,13.5]]],
guinea:[[[-15,10.8],[-13.2,8.7],[-11,10],[-10,8.5],[-8.5,7.6],[-8,10],[-8,12],[-12,12.4],[-13.7,12.5]]],
liberia:[[[-11.5,7],[-7.5,4.4],[-8.5,7.6],[-10,8.5]]],
sierraleone:[[[-13.2,8.7],[-11.5,7],[-10,8.5],[-11,10]]],
gbissau:[[[-16.7,12.3],[-13.7,12.5],[-15,10.8]]],
senegal:[[[-17.5,14.7],[-16.5,16.3],[-14,16.5],[-12,14.8],[-12,12.4],[-16.7,12.3]]],
angola:[[[11.8,-17.3],[13.5,-12],[12.2,-6],[16,-6],[17,-8],[22,-9],[22,-11],[24,-11],[22,-13],[22,-16],[23,-17.5],[18.5,-17.4]]],
zambia:[[[22,-13],[24,-11],[27,-12],[30,-13.2],[28.5,-12],[28.5,-9],[30.5,-8],[33,-9.5],[33,-14],[30.3,-16],[28,-16],[25,-17.7],[23,-17.5],[22,-16]]],
malawi:[[[33,-9.5],[34.7,-11.5],[35,-15],[35,-17],[34,-14.5],[33,-14]]],
mozambique:[[[35,-11.5],[40.4,-10.5],[40.5,-15],[35,-20],[35.5,-24],[32.8,-26],[32,-24],[32,-22.3],[33,-19],[30.3,-16],[33,-14],[34,-14.5],[35,-17],[35,-15],[34.7,-11.5]]],
zimbabwe:[[[25,-17.7],[28,-16],[30.3,-16],[33,-19],[32,-22.3],[29,-22.2],[26,-19]]],
botswana:[[[20,-18],[23,-17.5],[25,-17.7],[26,-19],[29,-22.2],[26,-24.7],[23,-25.3],[20,-24.7],[21,-22]]],
namibia:[[[11.8,-17.3],[18.5,-17.4],[23,-17.5],[20,-18],[21,-22],[20,-24.7],[20,-28.4],[17,-28.7],[15,-26],[13.5,-21]]],
safrica:[[[17,-28.7],[20,-28.4],[20,-24.7],[23,-25.3],[26,-24.7],[29,-22.2],[32,-22.3],[32,-24],[32.8,-26],[32.5,-28.5],[28,-33],[25,-34],[20,-34.8],[18.4,-34],[18,-32]]],
lesotho:[[[27.5,-29],[29.3,-29.5],[28.5,-30.6],[27.2,-30]]],
swaziland:[[[31,-26],[32,-26.5],[31.5,-27.3],[30.9,-26.8]]],
madagascar:[[[49.3,-12],[50.5,-15.5],[47.5,-25],[45,-25.5],[43.5,-22],[44.5,-17],[47,-15.5]]]
};
// small no-data islands (lon, lat)
const islets = [[-157,21],[-155.5,19.7],[-91,-0.5],[-16,28.2],[-24,15.5],[-28,38.5],[178,-18],[167,-15.5],[165.5,-21.3],[160,-9],[157,-8],[171,7],[145,14],[134.5,7.5],[55.5,-4.5],[57.5,-20.3],[73,4],[43.5,-11.8],[-5.7,-15.9],[-172,-13.7],[-60,-51.7],[-37,-54.3],[69.5,-49.3],[-61,15],[-61.5,10.5],[-77.5,24.5],[-66.5,18.2]];

// ---------- panels ----------
const panels = [
 {id:"a",letter:"A",letterX:33,letterY:59,title:"Incident cases",titleFont:20.6,values:incidentCases,labels:incidentLabels,x0:44,top:53,legX:32,legTitleY:194,legY:202,legStep:18.55,swW:17,textX:56,font:20.6,textDy:-1,letterName:"panel-a-label"},
 {id:"b",letter:"B",letterX:1035,letterY:61,title:"Incidence rate",titleFont:20.6,values:incidenceRate,labels:incidenceLabels,x0:1053,top:53,legX:1039,legTitleY:194,legY:202,legStep:18.55,swW:17,textX:1064,font:20.6,textDy:-1,letterName:"panel-b-label"},
 {id:"c",letter:"C",letterX:16,letterY:489,title:"Number of death",titleFont:20.6,values:numberOfDeath,labels:deathLabels,x0:26,top:490,legX:14,legTitleY:624,legY:632,legStep:18.55,swW:18,textX:40,font:20.8,textDy:-1,letterName:"panel-c-label"},
 {id:"d",letter:"D",letterX:1021,letterY:489,title:"Death rate",titleFont:20.4,values:deathRate,labels:deathRateLabels,x0:1033,top:490,legX:1018,legTitleY:625,legY:632,legStep:18.6,swW:18,textX:1044,font:20.6,textDy:-1,letterName:"panel-d-label"},
 {id:"e",letter:"E",letterX:3,letterY:905,title:"Number of DALYs",titleFont:19.4,values:numberOfDalys,labels:dalyLabels,x0:15,top:917,legX:6,legTitleY:1060,legY:1068,legStep:18.55,swW:18,textX:30,font:22.6,textDy:-1,letterName:"panel-e-label"},
 {id:"f",letter:"F",letterX:1011,letterY:905,title:"DALY rate",titleFont:20.5,values:dalyRate,labels:dalyRateLabels,x0:1024,top:916,legX:1012,legTitleY:1054,legY:1062,legStep:18.55,swW:18,textX:1036,font:25,textDy:-3,letterName:"panel-f-label"}
];
const lonScale = 2.356, latScale = 2.405, topLat = 83.6;
const NS = "http://www.w3.org/2000/svg";
const svg = document.getElementById("figure");

function xAxis(panel, lon){ return panel.x0 + (lon + 180) * lonScale; }
function yAxis(panel, lat){ return panel.top + (topLat - lat) * latScale; }
function classFill(v){ return v >= 0 && v < classColors.length ? classColors[Math.round(v)] : "#ffffff"; }
function ringPath(panel, ring){
  return "M" + ring.map(function(p){ return xAxis(panel,p[0]).toFixed(1) + " " + yAxis(panel,p[1]).toFixed(1); }).join("L") + "Z";
}

panels.forEach(function(panel){
  const g = document.createElementNS(NS,"g");
  
  
  svg.appendChild(g);

  const letter = document.createElementNS(NS,"text");
  
  
  letter.setAttribute("x", panel.letterX);
  letter.setAttribute("y", panel.letterY);
  letter.setAttribute("font-size", "74");
  letter.setAttribute("fill", "#000");
  letter.textContent = panel.letter;
  g.appendChild(letter);

  const map = document.createElementNS(NS,"g");
  
  
  g.appendChild(map);

  countries.forEach(function(name, i){
    const path = document.createElementNS(NS,"path");
    
    
    path.setAttribute("d", shapes[name].map(function(r){ return ringPath(panel, r); }).join(""));
    path.setAttribute("fill", classFill(panel.values[i]));
    path.setAttribute("stroke", "#5c5c5c");
    path.setAttribute("stroke-width", "0.7");
    path.setAttribute("stroke-linejoin", "round");
    map.appendChild(path);
  });

  islets.forEach(function(p){
    const dot = document.createElementNS(NS,"circle");
    
    
    dot.setAttribute("cx", xAxis(panel,p[0]).toFixed(1));
    dot.setAttribute("cy", yAxis(panel,p[1]).toFixed(1));
    dot.setAttribute("r", "0.8");
    dot.setAttribute("fill", "#fff");
    dot.setAttribute("stroke", "#777");
    dot.setAttribute("stroke-width", "0.5");
    map.appendChild(dot);
  });

  const legend = document.createElementNS(NS,"g");
  
  
  g.appendChild(legend);

  const title = document.createElementNS(NS,"text");
  
  
  title.setAttribute("x", panel.legX);
  title.setAttribute("y", panel.legTitleY);
  title.setAttribute("font-size", panel.titleFont);
  title.setAttribute("fill", "#111");
  title.textContent = panel.title;
  legend.appendChild(title);

  panel.labels.forEach(function(label, i){
    const swatch = document.createElementNS(NS,"rect");
    
    
    swatch.setAttribute("x", panel.legX);
    swatch.setAttribute("y", panel.legY + i * panel.legStep);
    swatch.setAttribute("width", panel.swW);
    swatch.setAttribute("height", panel.legStep);
    swatch.setAttribute("fill", classColors[i]);
    swatch.setAttribute("stroke", "#7a7a7a");
    swatch.setAttribute("stroke-width", "1.2");
    legend.appendChild(swatch);

    const text = document.createElementNS(NS,"text");
    
    
    text.setAttribute("x", panel.textX);
    text.setAttribute("y", panel.legY + (i + 0.5) * panel.legStep + panel.font * 0.36 + panel.textDy);
    text.setAttribute("font-size", panel.font);
    text.setAttribute("fill", "#111");
    text.textContent = label;
    legend.appendChild(text);
  });
});
</script>
</body>
</html>
